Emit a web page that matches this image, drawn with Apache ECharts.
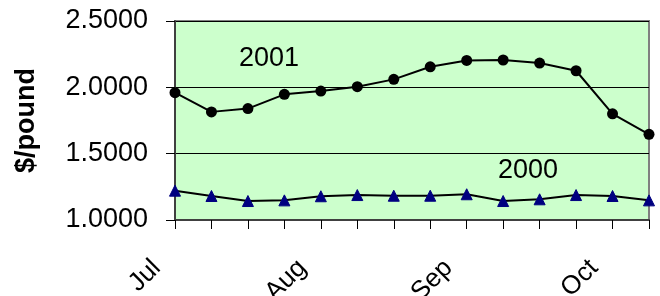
<!DOCTYPE html>
<html>
<head>
<meta charset="utf-8">
<script src="https://cdn.jsdelivr.net/npm/echarts@6/dist/echarts.min.js"></script>
<style>
  html, body { margin: 0; padding: 0; background: #fff; }
  #chart { width: 660px; height: 296px; }
</style>
</head>
<body>
<div id="chart"></div>
<script>
// weekly points, Jul .. end of Oct
const weeks = ['Jul', '', '', '', 'Aug', '', '', '', 'Sep', '', '', '', 'Oct', '']
// 2001 prices ($/pound)
const price2001 = [1.96, 1.815, 1.84, 1.947, 1.972, 2.005, 2.06, 2.155, 2.203, 2.206, 2.183, 2.125, 1.80, 1.646]
// 2000 prices ($/pound)
const price2000 = [1.221, 1.181, 1.143, 1.148, 1.179, 1.188, 1.183, 1.183, 1.194, 1.143, 1.156, 1.188, 1.181, 1.148]
const yTicks = [1.0, 1.5, 2.0, 2.5]

const font = 'Liberation Sans, Arial, sans-serif'
const chart = echarts.init(document.getElementById('chart'))

const option = {
  animation: false,
  backgroundColor: '#fff',
  grid: {
    left: 175,
    right: 11,
    top: 21,
    bottom: 76,
    containLabel: false,
    outerBoundsMode: 'none',
    show: true,
    backgroundColor: '#ccffcc',
    borderColor: '#808080',
    borderWidth: 2
  },
  xAxis: {
    type: 'category',
    data: weeks,
    boundaryGap: false,
    axisLine: { lineStyle: { color: '#404040', width: 2 } },
    axisTick: { show: true, interval: 0, length: 9, inside: false, lineStyle: { color: '#000' } },
    axisLabel: {
      interval: 3,
      rotate: 45,
      margin: 44,
      verticalAlign: 'bottom',
      padding: [0, 13, 0, 0],
      color: '#000',
      fontFamily: font,
      fontSize: 26
    },
    splitLine: { show: false }
  },
  yAxis: {
    type: 'value',
    min: yTicks[0],
    max: yTicks[yTicks.length - 1],
    interval: 0.5,
    name: '$/pound',
    nameLocation: 'middle',
    nameGap: 135,
    nameTextStyle: { color: '#000', fontFamily: font, fontSize: 27, fontWeight: 'bold' },
    axisLine: { show: true, lineStyle: { color: '#404040', width: 2 } },
    axisTick: { show: true, length: 9, lineStyle: { color: '#000' } },
    axisLabel: {
      margin: 27,
      color: '#000',
      fontFamily: font,
      fontSize: 27,
      formatter: (v) => v.toFixed(4)
    },
    splitLine: { show: true, lineStyle: { color: '#000', width: 1 } }
  },
  series: [
    {
      name: '2001',
      type: 'line',
      data: price2001,
      symbol: 'circle',
      symbolSize: 11,
      itemStyle: { color: '#000' },
      lineStyle: { color: '#000', width: 2 }
    },
    {
      name: '2000',
      type: 'line',
      data: price2000,
      symbol: 'triangle',
      symbolSize: 11,
      itemStyle: { color: '#000080', borderColor: '#000080', borderWidth: 1 },
      lineStyle: { color: '#000', width: 2 }
    }
  ],
  graphic: [
    {
      type: 'text',
      left: 239,
      top: 45,
      style: { text: '2001', fill: '#000', font: '27px ' + font }
    },
    {
      type: 'text',
      left: 498,
      top: 157,
      style: { text: '2000', fill: '#000', font: '27px ' + font }
    }
  ]
}

chart.setOption(option)
</script>
</body>
</html>
